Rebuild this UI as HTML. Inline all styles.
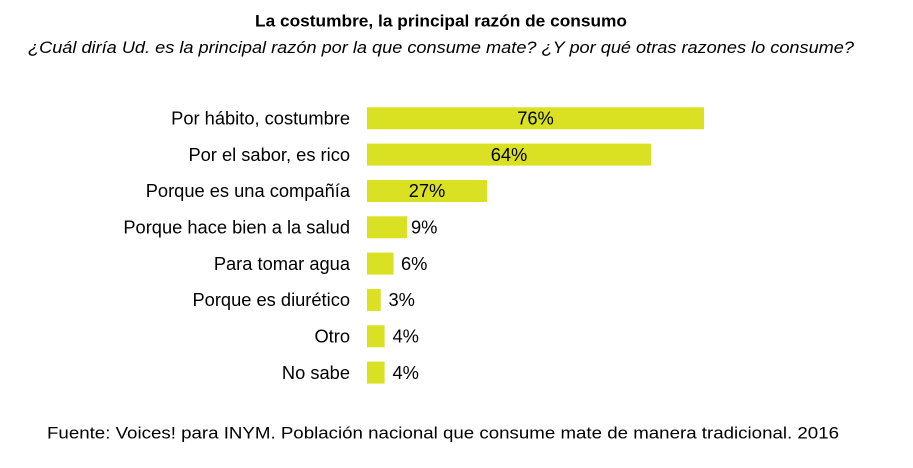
<!DOCTYPE html>
<html>
<head>
<meta charset="utf-8">
<style>
html,body{margin:0;padding:0;background:#fff;}
svg{display:block;}
</style>
</head>
<body>
<svg width="913" height="468" viewBox="0 0 913 468" xmlns="http://www.w3.org/2000/svg">
<rect width="913" height="468" fill="#fff"/>
<g font-family="'Liberation Sans', sans-serif" fill="#000">
<text x="255" y="26.5" font-size="17" font-weight="bold" textLength="372" lengthAdjust="spacingAndGlyphs">La costumbre, la principal razón de consumo</text>
<text x="28" y="53" font-size="17" font-style="italic" textLength="826" lengthAdjust="spacingAndGlyphs">¿Cuál diría Ud. es la principal razón por la que consume mate? ¿Y por qué otras razones lo consume?</text>
<text x="47" y="438.5" font-size="17" textLength="792" lengthAdjust="spacingAndGlyphs">Fuente: Voices! para INYM. Población nacional que consume mate de manera tradicional. 2016</text>
</g>
<g fill="#dae022">
<rect x="367" y="107.3" width="337" height="22"/>
<rect x="367" y="143.6" width="284" height="22"/>
<rect x="367" y="180" width="120" height="22"/>
<rect x="367" y="216.3" width="40" height="22"/>
<rect x="367" y="252.6" width="26.6" height="22"/>
<rect x="367" y="289" width="13.7" height="22"/>
<rect x="367" y="325.3" width="17.6" height="22"/>
<rect x="367" y="361.6" width="17.6" height="22"/>
</g>
<g font-family="'Liberation Sans', Arial, sans-serif" font-size="18.3" fill="#000" text-anchor="end">
<text x="350" y="124.5">Por hábito, costumbre</text>
<text x="350" y="160.8">Por el sabor, es rico</text>
<text x="350" y="197.2">Porque es una compañía</text>
<text x="350" y="233.5">Porque hace bien a la salud</text>
<text x="350" y="269.8">Para tomar agua</text>
<text x="350" y="306.2">Porque es diurético</text>
<text x="350" y="342.5">Otro</text>
<text x="350" y="378.8">No sabe</text>
</g>
<g font-family="'Liberation Sans', Arial, sans-serif" font-size="18.3" fill="#000">
<text x="535.5" y="124.5" text-anchor="middle">76%</text>
<text x="509" y="160.8" text-anchor="middle">64%</text>
<text x="427" y="197.2" text-anchor="middle">27%</text>
<text x="411" y="233.5">9%</text>
<text x="401" y="269.8">6%</text>
<text x="388.5" y="306.2">3%</text>
<text x="392.5" y="342.5">4%</text>
<text x="392.5" y="378.8">4%</text>
</g>
</svg>
</body>
</html>
